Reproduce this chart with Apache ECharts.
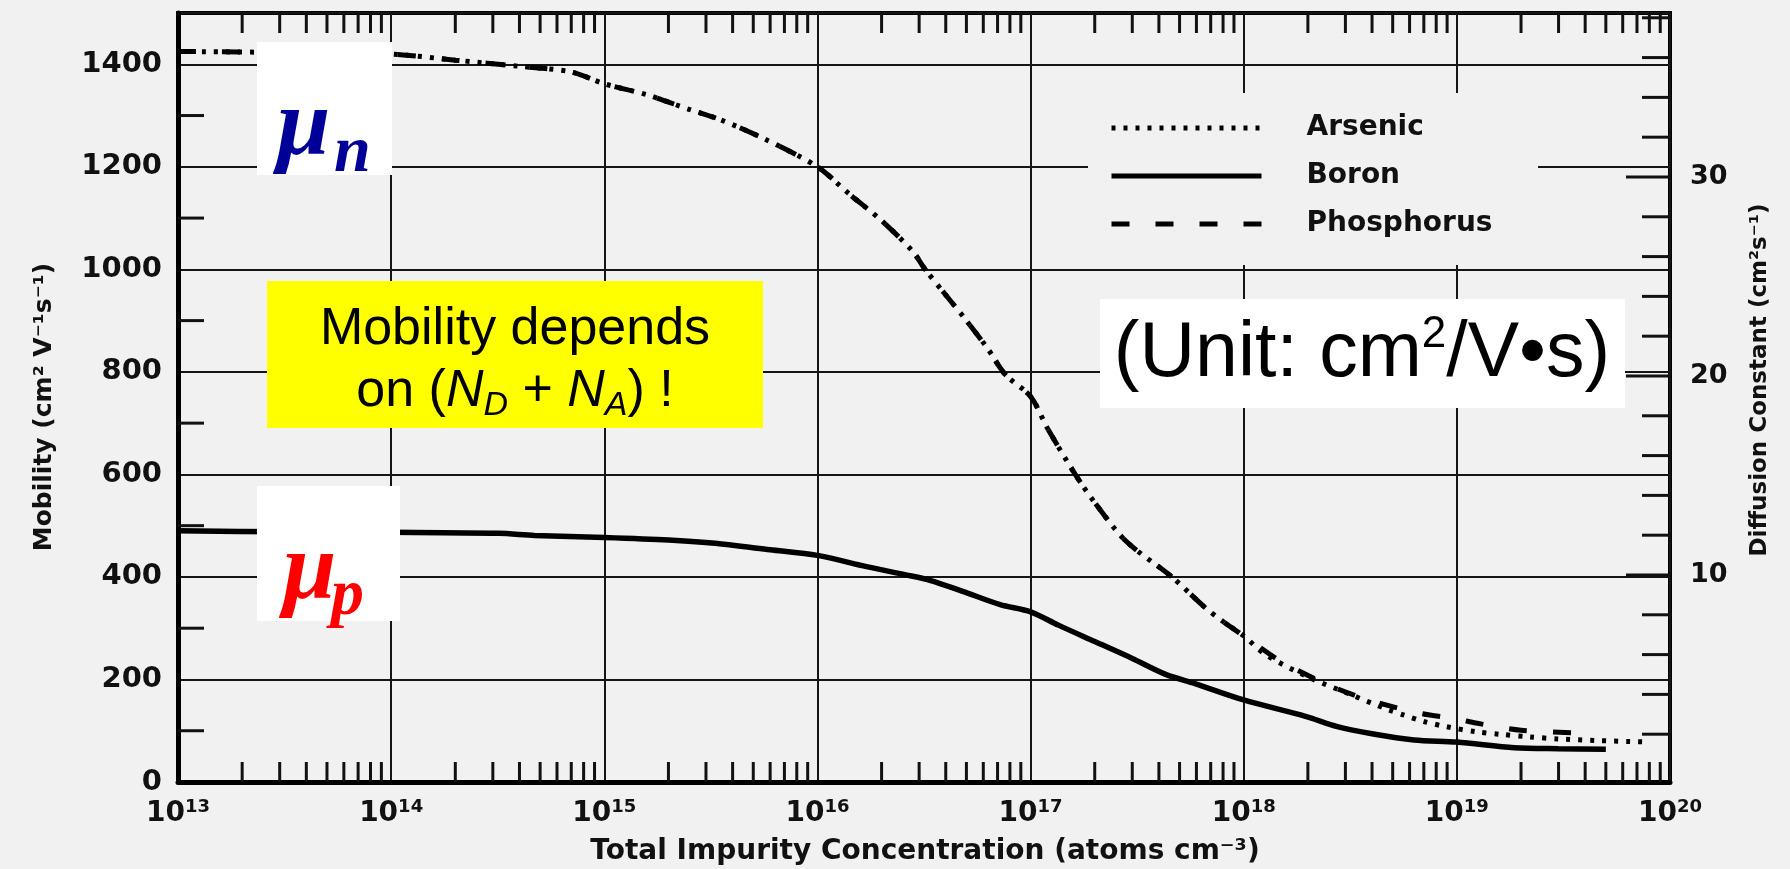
<!DOCTYPE html>
<html><head><meta charset="utf-8">
<script src="https://cdn.jsdelivr.net/npm/echarts@6/dist/echarts.min.js"></script>
<style>html,body{margin:0;padding:0;background:#f1f1f1;} #c{width:1790px;height:869px;}</style>
</head><body><div id="c"></div>
<script>
// ---- axis structure ----
const yLabelValues = [0, 200, 400, 600, 800, 1000, 1200, 1400];
const dLabelValues = [10, 20, 30];
const decadeExponents = [13, 14, 15, 16, 17, 18, 19];
const minorFactors = [2, 3, 4, 5, 6, 7, 8, 9];
const leftMinorTicks = [100, 300, 500, 700, 900, 1100, 1300];
const rightTicks = [2, 4, 6, 8, 10, 12, 14, 16, 18, 20, 22, 24, 26, 28, 30, 32, 34, 36, 38];

// ---- data ----
const arsenicN = [1e13, 3.2e13, 1e14, 2e14, 4e14, 7e14, 1e15, 1.6e15, 2.5e15, 3.5e15, 5.6e15, 1e16, 1.4e16, 2e16, 2.8e16, 3.2e16, 4e16, 5e16, 6.3e16, 7.6e16, 1e17, 1.2e17, 1.62e17, 2e17, 2.8e17, 4.6e17, 6.6e17, 8e17, 1e18, 1.26e18, 2e18, 3.2e18, 4.7e18, 5.6e18, 7e18, 8.9e18, 1.23e19, 1.6e19, 2.2e19, 3e19, 4.5e19, 6.5e19, 8e19];
const arsenicMu = [1425, 1423, 1420, 1408, 1396, 1385, 1362, 1340, 1312, 1292, 1255, 1200, 1148, 1095, 1035, 1000, 950, 900, 845, 795, 752, 690, 600, 545, 470, 400, 340, 313, 285, 249, 205, 170, 142, 131, 118, 108, 98, 93, 88, 84, 81, 79, 78];

const phosphorusN = [1e13, 3.2e13, 1e14, 2e14, 4e14, 7e14, 1e15, 1.6e15, 2.5e15, 3.5e15, 5.6e15, 1e16, 1.4e16, 2e16, 2.8e16, 3.2e16, 4e16, 5e16, 6.3e16, 7.6e16, 1e17, 1.2e17, 1.62e17, 2e17, 2.8e17, 4.6e17, 6.6e17, 8e17, 1e18, 1.5e18, 2.6e18, 4e18, 6.9e18, 1e19, 1.23e19, 2e19, 3.5e19, 4.2e19];
const phosphorusMu = [1425, 1423, 1420, 1408, 1396, 1385, 1362, 1340, 1312, 1292, 1255, 1200, 1148, 1095, 1035, 1000, 950, 900, 845, 795, 752, 690, 600, 545, 470, 400, 340, 313, 285, 235, 186, 158, 133, 123, 115, 101, 96, 95];

const boronN = [1e13, 3.2e13, 1e14, 3.2e14, 4.7e14, 1e15, 2e15, 3.2e15, 6e15, 1e16, 1.7e16, 2.6e16, 3.4e16, 4.8e16, 7.2e16, 1e17, 1.35e17, 2e17, 3e17, 4.3e17, 5.9e17, 1e18, 1.95e18, 2.75e18, 4e18, 6.3e18, 1e19, 1.86e19, 3e19, 5e19];
const boronMu = [490, 488, 487, 485, 481, 477, 472, 466, 453, 442, 420, 404, 393, 372, 346, 332, 306, 274, 241, 210, 192, 160, 128, 108, 94, 82, 78, 67, 65, 64];

function pairs(xs, ys) { return xs.map((x, i) => [x, ys[i]]); }

const minorTickX = [];
decadeExponents.forEach(e => minorFactors.forEach(f => minorTickX.push(f * Math.pow(10, e))));

const TICK = '#111';
const labelFont = 'DejaVu Sans';

function tickSeries(data, xi, yi, fn) {
  return {
    type: 'custom', xAxisIndex: xi, yAxisIndex: yi, silent: true, clip: false, z: 5,
    data: data,
    renderItem: function (params, api) {
      const v0 = api.value(0), v1 = api.value(1);
      const p = api.coord([v0, v1]);
      const d = fn(v0, v1);
      return { type: 'line', shape: { x1: p[0], y1: p[1], x2: p[0] + d[0], y2: p[1] + d[1] },
        style: { stroke: TICK, lineWidth: 3 } };
    }
  };
}

const chart = echarts.init(document.getElementById('c'), null, { width: 1790, height: 869 });

const option = {
  animation: false,
  backgroundColor: '#f1f1f1',
  grid: [
    { left: 178, right: 120, top: 13, bottom: 87, show: true, borderColor: '#000', borderWidth: 4, backgroundColor: 'transparent' },
    { left: 178, right: 120, top: 13, bottom: 95, show: false }
  ],
  xAxis: [
    {
      type: 'log', logBase: 10, min: 1e13, max: 1e20, gridIndex: 0,
      axisLine: { show: true, lineStyle: { color: '#000', width: 5 } },
      axisTick: { show: false },
      splitLine: { show: true, lineStyle: { color: '#151515', width: 2 } },
      minorTick: { show: false }, minorSplitLine: { show: false },
      axisLabel: {
        margin: 16,
        formatter: function (v) { return '{b|10}{s|' + Math.round(Math.log10(v)) + '}'; },
        rich: {
          b: { fontFamily: labelFont, fontWeight: 'bold', fontSize: 28, color: '#111', lineHeight: 32 },
          s: { fontFamily: labelFont, fontWeight: 'bold', fontSize: 18, color: '#111', lineHeight: 16, verticalAlign: 'top' }
        }
      }
    },
    { type: 'value', gridIndex: 1, min: 0, max: 1, show: false }
  ],
  yAxis: [
    {
      type: 'value', min: 0, max: 1500, interval: 200, gridIndex: 0,
      axisLine: { show: true, lineStyle: { color: '#000', width: 5 } },
      axisTick: { show: false },
      splitLine: { show: true, lineStyle: { color: '#151515', width: 2 } },
      axisLabel: {
        margin: 16, fontFamily: labelFont, fontWeight: 'bold', fontSize: 29, color: '#111',
        formatter: function (v) { return yLabelValues.indexOf(v) >= 0 ? String(v) : ''; }
      }
    },
    {
      type: 'value', min: 0, max: 38.24, interval: 10, gridIndex: 1, position: 'right',
      axisLine: { show: false }, axisTick: { show: false }, splitLine: { show: false },
      axisLabel: {
        margin: 20, fontFamily: labelFont, fontWeight: 'bold', fontSize: 27, color: '#111',
        formatter: function (v) { return dLabelValues.indexOf(v) >= 0 ? String(v) : ''; }
      }
    }
  ],
  legend: {
    data: ['Arsenic', 'Boron', 'Phosphorus'],
    orient: 'vertical', left: 1104, top: 109,
    itemWidth: 150, itemHeight: 14, itemGap: 20,
    selectedMode: false,
    itemStyle: { opacity: 0, borderWidth: 0 },
    lineStyle: { width: 5 },
    textStyle: { fontFamily: labelFont, fontWeight: 'bold', fontSize: 28, color: '#111', padding: [0, 0, 0, 40], lineHeight: 28 }
  },
  series: [
    {
      name: 'Arsenic', type: 'line', data: pairs(arsenicN, arsenicMu), showSymbol: false, symbol: 'none',
      smooth: 0.3, z: 3, silent: true, itemStyle: { color: '#000' },
      lineStyle: { color: '#000', width: 5, type: [4, 8] }
    },
    {
      name: 'Boron', type: 'line', data: pairs(boronN, boronMu), showSymbol: false, symbol: 'none',
      smooth: 0.3, z: 3, silent: true, itemStyle: { color: '#000' },
      lineStyle: { color: '#000', width: 5.5, type: 'solid' }
    },
    {
      name: 'Phosphorus', type: 'line', data: pairs(phosphorusN, phosphorusMu), showSymbol: false, symbol: 'none',
      smooth: 0.3, z: 3, silent: true, itemStyle: { color: '#000' },
      lineStyle: { color: '#000', width: 5, type: [18, 26] }
    },
    tickSeries(minorTickX.map(v => [v, 1500]), 0, 0, () => [0, 20]),
    tickSeries(minorTickX.map(v => [v, 0]), 0, 0, () => [0, -20]),
    tickSeries(leftMinorTicks.map(v => [1e13, v]), 0, 0, () => [26, 0]),
    tickSeries(rightTicks.map(v => [1, v]), 1, 1, (a, b) => [b % 10 === 0 ? -44 : -28, 0])
  ],
  graphic: [
    // blank area behind the legend
    { type: 'rect', z: 1, silent: true, shape: { x: 1088, y: 93, width: 450, height: 172 }, style: { fill: '#f1f1f1' } },
    // axis titles
    { type: 'text', z: 10, x: 925, y: 852, silent: true,
      style: { text: 'Total Impurity Concentration (atoms cm⁻³)', fontFamily: labelFont, fontWeight: 'bold', fontSize: 28, fill: '#111', align: 'center', verticalAlign: 'middle' } },
    { type: 'text', z: 10, x: 44, y: 407, rotation: Math.PI / 2, silent: true,
      style: { text: 'Mobility (cm² V⁻¹s⁻¹)', fontFamily: labelFont, fontWeight: 'bold', fontSize: 25, fill: '#111', align: 'center', verticalAlign: 'middle' } },
    { type: 'text', z: 10, x: 1760, y: 380, rotation: Math.PI / 2, silent: true,
      style: { text: 'Diffusion Constant (cm²s⁻¹)', fontFamily: labelFont, fontWeight: 'bold', fontSize: 23, fill: '#111', align: 'center', verticalAlign: 'middle' } },
    // mu_n box
    { type: 'rect', z: 100, silent: true, shape: { x: 257, y: 42, width: 135, height: 133 }, style: { fill: '#ffffff' } },
    { type: 'text', z: 101, x: 277, y: 129, silent: true,
      style: { text: 'μ', fontFamily: 'Liberation Serif', fontStyle: 'italic', fontWeight: 'bold', fontSize: 96, fill: '#000099', align: 'left', verticalAlign: 'middle' } },
    { type: 'text', z: 101, x: 334, y: 154, silent: true,
      style: { text: 'n', fontFamily: 'Liberation Serif', fontStyle: 'italic', fontWeight: 'bold', fontSize: 66, fill: '#000099', align: 'left', verticalAlign: 'middle' } },
    // mu_p box
    { type: 'rect', z: 100, silent: true, shape: { x: 257, y: 486, width: 143, height: 135 }, style: { fill: '#ffffff' } },
    { type: 'text', z: 101, x: 283, y: 573, silent: true,
      style: { text: 'μ', fontFamily: 'Liberation Serif', fontStyle: 'italic', fontWeight: 'bold', fontSize: 96, fill: '#ff0000', align: 'left', verticalAlign: 'middle' } },
    { type: 'text', z: 101, x: 331, y: 597, silent: true,
      style: { text: 'p', fontFamily: 'Liberation Serif', fontStyle: 'italic', fontWeight: 'bold', fontSize: 66, fill: '#ff0000', align: 'left', verticalAlign: 'middle' } },
    // yellow note
    { type: 'rect', z: 100, silent: true, shape: { x: 267, y: 281, width: 496, height: 147 }, style: { fill: '#ffff00' } },
    { type: 'text', z: 101, x: 515, y: 299, silent: true,
      style: {
        text: '{r|Mobility depends}\n{r|on (}{i|N}{s|D}{r| + }{i|N}{s|A}{r|) !}',
        align: 'center', verticalAlign: 'top',
        rich: {
          r: { fontFamily: 'Liberation Sans', fontSize: 52, lineHeight: 62, fill: '#000' },
          i: { fontFamily: 'Liberation Sans', fontSize: 52, lineHeight: 62, fontStyle: 'italic', fill: '#000' },
          s: { fontFamily: 'Liberation Sans', fontSize: 34, lineHeight: 30, fontStyle: 'italic', verticalAlign: 'bottom', fill: '#000' }
        }
      } },
    // unit box
    { type: 'rect', z: 100, silent: true, shape: { x: 1100, y: 299, width: 525, height: 109 }, style: { fill: '#ffffff' } },
    { type: 'text', z: 101, x: 1362, y: 313, silent: true,
      style: {
        text: '{r|(Unit: cm}{p|2}{r|/V•s)}',
        align: 'center', verticalAlign: 'top',
        rich: {
          r: { fontFamily: 'Liberation Sans', fontSize: 77, lineHeight: 84, fill: '#000' },
          p: { fontFamily: 'Liberation Sans', fontSize: 44, lineHeight: 56, verticalAlign: 'top', fill: '#000' }
        }
      } }
  ]
};
chart.setOption(option);
</script>
</body></html>
